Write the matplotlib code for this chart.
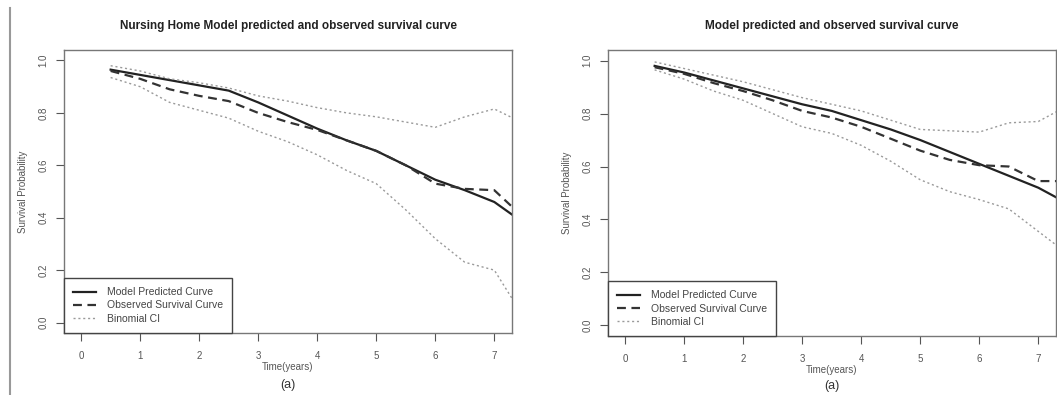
import matplotlib
matplotlib.use("Agg")
import matplotlib.pyplot as plt

plt.rcParams['font.family'] = ['Liberation Sans', 'DejaVu Sans']

# time points (years)
time_pts = [0.5, 1.0, 1.5, 2.0, 2.5, 3.0, 3.5, 4.0, 4.5, 5.0, 5.5, 6.0, 6.5, 7.0, 7.5]

# panel 1: nursing home model
nh_model = [0.965, 0.945, 0.925, 0.905, 0.885, 0.84, 0.79, 0.74, 0.695, 0.655, 0.60, 0.545, 0.505, 0.46, 0.38]
nh_observed = [0.96, 0.93, 0.89, 0.865, 0.845, 0.80, 0.765, 0.735, 0.695, 0.655, 0.60, 0.53, 0.51, 0.505, 0.40]
nh_ci_upper = [0.98, 0.96, 0.93, 0.915, 0.895, 0.865, 0.845, 0.82, 0.80, 0.785, 0.765, 0.745, 0.785, 0.815, 0.76]
nh_ci_lower = [0.935, 0.90, 0.84, 0.81, 0.78, 0.73, 0.69, 0.64, 0.58, 0.53, 0.43, 0.32, 0.23, 0.20, 0.02]

# panel 2: general model
gm_model = [0.98, 0.955, 0.925, 0.895, 0.865, 0.835, 0.81, 0.775, 0.74, 0.70, 0.655, 0.61, 0.565, 0.52, 0.46]
gm_observed = [0.975, 0.95, 0.915, 0.885, 0.85, 0.81, 0.785, 0.75, 0.705, 0.66, 0.625, 0.605, 0.60, 0.545, 0.545]
gm_ci_upper = [0.995, 0.97, 0.945, 0.92, 0.89, 0.86, 0.835, 0.81, 0.775, 0.74, 0.735, 0.73, 0.765, 0.77, 0.83]
gm_ci_lower = [0.965, 0.93, 0.885, 0.85, 0.80, 0.75, 0.725, 0.68, 0.62, 0.55, 0.505, 0.475, 0.44, 0.355, 0.27]

titles = ["Nursing Home Model predicted and observed survival curve",
          "Model predicted and observed survival curve"]
legend_labels = ["Model Predicted Curve", "Observed Survival Curve", "Binomial CI"]
x_ticks = [0, 1, 2, 3, 4, 5, 6, 7]
y_ticks = [0.0, 0.2, 0.4, 0.6, 0.8, 1.0]

W, H = 1057, 395
fig = plt.figure(figsize=(W / 100, H / 100), dpi=100)


def px_axes(left, top, right, bottom):
    return fig.add_axes([left / W, (H - bottom) / H, (right - left) / W, (bottom - top) / H])


def draw_panel(ax, title, model, observed, upper, lower):
    ax.plot(time_pts, model, color='#222222', lw=1.6)
    ax.plot(time_pts, observed, color='#333333', lw=1.6, linestyle=(0, (4, 2.5)))
    ax.plot(time_pts, upper, color='#9a9a9a', lw=1.0, linestyle=(0, (1.5, 2)))
    ax.plot(time_pts, lower, color='#9a9a9a', lw=1.0, linestyle=(0, (1.5, 2)))

    ax.set_xlim(-0.29, 7.3)
    ax.set_ylim(-0.04, 1.04)
    ax.set_xticks(x_ticks)
    ax.set_yticks(y_ticks)
    ax.set_yticklabels(["%.1f" % v for v in y_ticks])
    ax.tick_params(colors='#555555', labelsize=7, length=6, width=0.8, pad=5)
    ax.tick_params(axis='x', pad=7)
    for lab in ax.get_yticklabels():
        lab.set_rotation(90)
        lab.set_va('center')
    for s in ax.spines.values():
        s.set_color('#777777')
        s.set_linewidth(1.0)

    ax.set_title(title, fontsize=8.5, fontweight='bold', color='#222222', pad=15)
    ax.set_xlabel("Time(years)", fontsize=7, color='#555555', labelpad=1)
    ax.set_ylabel("Survival Probability", fontsize=7, color='#555555', labelpad=8)

    leg = ax.legend(legend_labels, loc='lower left', bbox_to_anchor=(0, 0),
                    borderaxespad=0, fontsize=7.5, handlelength=2.2,
                    labelspacing=0.3, borderpad=0.9, fancybox=False,
                    framealpha=1, edgecolor='#444444', handletextpad=1.0)
    leg.get_frame().set_linewidth(1.0)
    for t in leg.get_texts():
        t.set_color('#444444')


ax1 = px_axes(64, 50, 512, 333)
draw_panel(ax1, titles[0], nh_model, nh_observed, nh_ci_upper, nh_ci_lower)
fig.text(288 / W, (H - 385) / H, "(a)", ha='center', va='center', fontsize=9, color='#333333')

ax2 = px_axes(608, 50, 1056, 336)
draw_panel(ax2, titles[1], gm_model, gm_observed, gm_ci_upper, gm_ci_lower)
fig.text(832 / W, (H - 386) / H, "(a)", ha='center', va='center', fontsize=9, color='#333333')

# page border line at the left edge
fig.add_artist(plt.Line2D([10 / W, 10 / W], [0, (H - 8) / H], color='#999999', lw=1.5))

fig.savefig("out.png", dpi=100)
